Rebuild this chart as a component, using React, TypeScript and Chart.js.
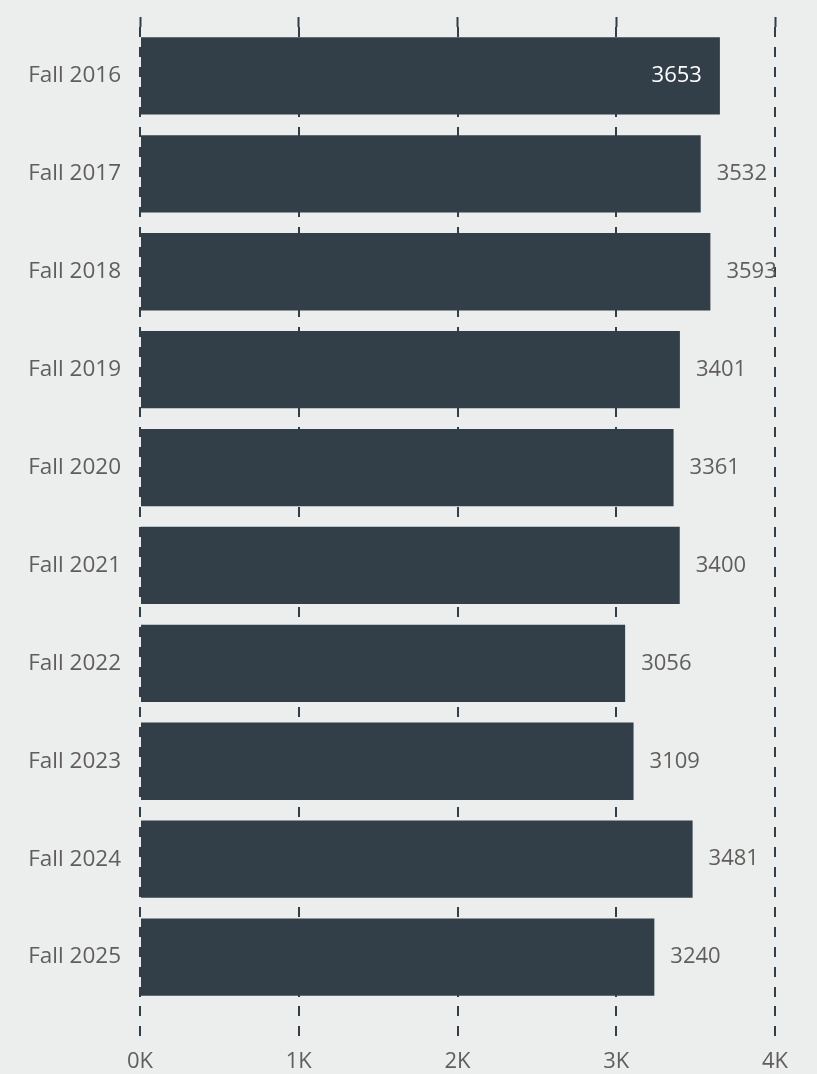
import React, { useEffect, useRef } from "react";
import { Chart, registerables } from "chart.js";

Chart.register(...registerables);

const categories = [
  "Fall 2016",
  "Fall 2017",
  "Fall 2018",
  "Fall 2019",
  "Fall 2020",
  "Fall 2021",
  "Fall 2022",
  "Fall 2023",
  "Fall 2024",
  "Fall 2025",
];
const enrollment = [3653, 3532, 3593, 3401, 3361, 3400, 3056, 3109, 3481, 3240];
const xTickLabels = ["0K", "1K", "2K", "3K", "4K"];

const BG = "#eceeed";
const BAR = "#333f48";
const GRID = "#333f48";
const TEXT = "#605e5c";
const FONT = "'Open Sans', 'Noto Sans', sans-serif";

const valueLabels = {
  id: "valueLabels",
  afterDatasetsDraw(chart: any) {
    const ctx = chart.ctx;
    const meta = chart.getDatasetMeta(0);
    const area = chart.chartArea;
    ctx.save();
    ctx.font = `22px ${FONT}`;
    ctx.textBaseline = "middle";
    meta.data.forEach((bar: any, i: number) => {
      const text = String(enrollment[i]);
      const w = ctx.measureText(text).width;
      if (bar.x + 16 + w <= area.right + 4) {
        ctx.fillStyle = TEXT;
        ctx.textAlign = "left";
        ctx.fillText(text, bar.x + 16, bar.y);
      } else {
        ctx.fillStyle = "#ffffff";
        ctx.textAlign = "right";
        ctx.fillText(text, bar.x - 18, bar.y);
      }
    });
    ctx.restore();
  },
};

export default function App() {
  const canvasRef = useRef<HTMLCanvasElement | null>(null);

  useEffect(() => {
    document.body.style.margin = "0";
    document.body.style.background = BG;
    const canvas = canvasRef.current;
    if (!canvas) return;
    const chart = new Chart(canvas, {
      type: "bar",
      data: {
        labels: categories,
        datasets: [
          {
            data: enrollment,
            backgroundColor: BAR,
            borderWidth: 0,
            categoryPercentage: 1,
            barPercentage: 0.79,
          },
        ],
      },
      options: {
        indexAxis: "y",
        animation: false,
        responsive: true,
        maintainAspectRatio: false,
        layout: { padding: { top: 7, right: 42, bottom: 2, left: 0 } },
        plugins: {
          legend: { display: false },
          tooltip: { enabled: false },
        },
        scales: {
          x: {
            type: "linear",
            position: "bottom",
            min: 0,
            max: 4000,
            border: { display: false, dash: [10, 10] },
            grid: {
              color: GRID,
              lineWidth: 2,
              drawTicks: true,
              tickLength: 34,
              tickColor: GRID,
              tickWidth: 2,
              tickBorderDash: [10, 10],
            },
            ticks: {
              stepSize: 1000,
              padding: 9,
              color: TEXT,
              font: { family: FONT, size: 22 },
              callback: (_v: any, i: number) => xTickLabels[i],
            },
            afterFit: (scale: any) => {
              scale.height = 66;
            },
          },
          x2: {
            type: "linear",
            position: "top",
            min: 0,
            max: 4000,
            border: { display: false, dash: [10, 10] },
            grid: {
              drawOnChartArea: false,
              drawTicks: true,
              tickLength: 20,
              tickColor: GRID,
              tickWidth: 2,
              tickBorderDash: [10, 10],
              tickBorderDashOffset: 10,
            },
            ticks: { stepSize: 1000, display: false },
            afterFit: (scale: any) => {
              scale.height = 20;
            },
          },
          y: {
            type: "category",
            border: { display: false },
            grid: { display: false, drawTicks: false },
            ticks: {
              padding: 19,
              color: TEXT,
              font: { family: FONT, size: 22.5 },
            },
            afterFit: (scale: any) => {
              scale.width = 140;
              scale.paddingTop = 0;
              scale.paddingBottom = 0;
            },
          },
        },
      } as any,
      plugins: [valueLabels],
    });
    return () => chart.destroy();
  }, []);

  return (
    <div style={{ width: 817, height: 1074, position: "relative", background: BG }}>
      <canvas ref={canvasRef} />
    </div>
  );
}
